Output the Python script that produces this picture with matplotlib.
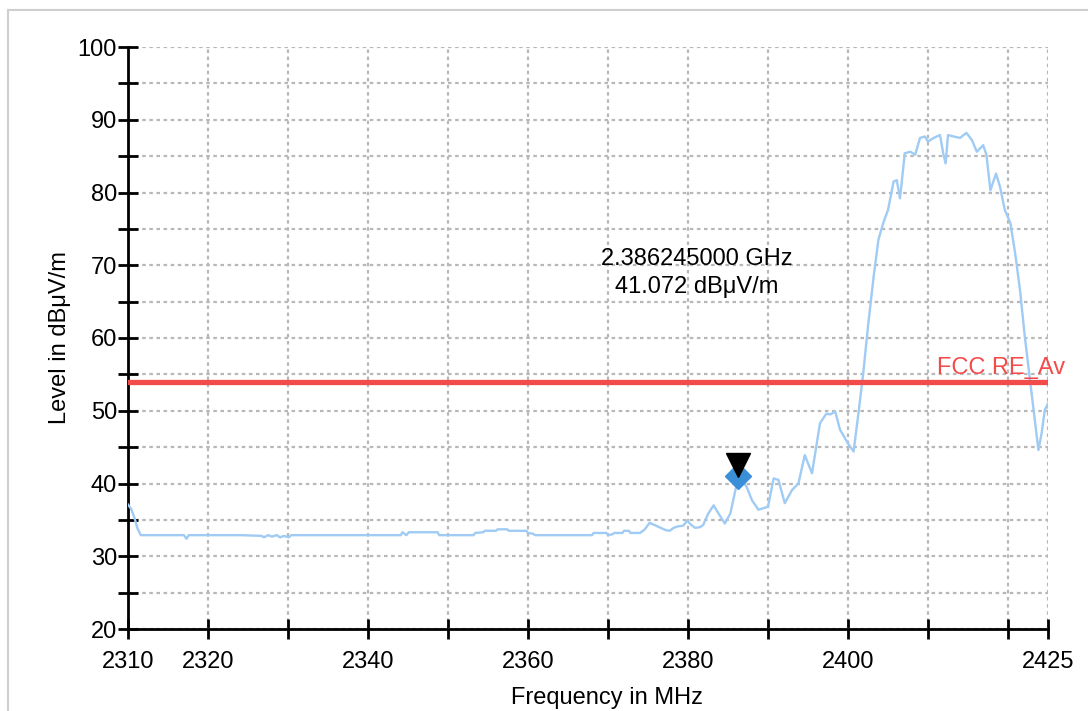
import matplotlib.pyplot as plt
from matplotlib.lines import Line2D
from matplotlib.transforms import ScaledTranslation

plt.rcParams['font.family'] = ['Liberation Sans', 'DejaVu Sans']

# trace (MHz, dBuV/m)
freq = [2310.0, 2310.4, 2310.8, 2311.2, 2311.6, 2312.5, 2315.0, 2317.0, 2317.3, 2317.6,
        2320.0, 2324.0, 2326.7, 2327.0, 2327.5, 2328.0, 2328.6, 2329.0, 2329.5, 2330.1,
        2330.4, 2335.0, 2340.0, 2344.1, 2344.3, 2344.8, 2345.1, 2348.7, 2348.9, 2353.2,
        2353.4, 2354.4, 2354.6, 2356.0, 2356.2, 2357.4, 2357.6, 2359.8, 2360.0, 2360.6,
        2360.9, 2368.0, 2368.2, 2369.8, 2370.0, 2370.5, 2370.8, 2371.8, 2372.0, 2372.6,
        2372.8, 2374.0, 2374.6, 2375.2, 2375.6, 2376.4, 2377.2, 2377.7, 2378.2, 2378.7,
        2379.4, 2379.9, 2380.4, 2380.9, 2381.5, 2381.9, 2382.5, 2383.2, 2383.8, 2384.6,
        2385.3, 2386.1, 2386.25, 2386.6, 2387.3, 2388.0, 2388.8, 2389.4, 2390.0, 2390.7,
        2391.3, 2392.1, 2393.0, 2393.8, 2394.6, 2395.5, 2396.5, 2397.3, 2397.8, 2398.4,
        2399.0, 2400.0, 2400.7, 2401.3, 2401.9, 2402.5, 2403.2, 2403.8, 2404.4, 2405.0,
        2405.7, 2406.1, 2406.5, 2407.1, 2407.8, 2408.4, 2409.0, 2409.6, 2410.0, 2410.7,
        2411.5, 2411.9, 2412.2, 2412.5, 2413.2, 2414.0, 2414.8, 2415.5, 2416.1, 2416.9,
        2417.3, 2417.8, 2418.5, 2419.0, 2419.6, 2420.3, 2420.9, 2421.5, 2422.1, 2422.8,
        2423.4, 2423.8, 2424.2, 2424.6, 2425.0]
level = [37.1, 36.5, 35.3, 33.8, 32.9, 32.9, 32.9, 32.9, 32.4, 32.9,
         32.9, 32.9, 32.8, 32.6, 32.9, 32.7, 32.9, 32.6, 32.8, 32.6,
         32.9, 32.9, 32.9, 32.9, 33.3, 32.9, 33.3, 33.3, 32.9, 32.9,
         33.2, 33.3, 33.5, 33.5, 33.7, 33.7, 33.5, 33.5, 33.2, 33.1,
         32.9, 32.9, 33.2, 33.2, 32.9, 33.0, 33.2, 33.2, 33.5, 33.5,
         33.2, 33.2, 33.7, 34.6, 34.4, 34.0, 33.6, 33.5, 33.9, 34.1,
         34.2, 34.9, 34.3, 33.9, 34.0, 34.3, 35.8, 37.0, 35.9, 34.5,
         35.9, 40.0, 41.07, 40.6, 39.6, 37.7, 36.4, 36.6, 36.8, 40.7,
         40.5, 37.3, 39.1, 40.0, 43.9, 41.4, 48.3, 49.6, 49.5, 49.9,
         47.4, 45.5, 44.4, 49.6, 55.1, 61.6, 68.4, 73.5, 75.8, 77.6,
         81.5, 81.7, 79.2, 85.4, 85.6, 85.2, 87.5, 87.7, 87.0, 87.5,
         87.9, 85.4, 84.0, 87.9, 87.7, 87.5, 88.2, 87.2, 85.6, 86.5,
         85.2, 80.3, 82.6, 80.8, 77.6, 75.8, 71.6, 66.6, 60.2, 53.8,
         48.3, 44.6, 46.9, 50.1, 51.0]

limit_level = 54.0
limit_name = 'FCC RE_Av'
marker_freq = 2386.245
marker_level = 41.072

x_ticks = list(range(2310, 2421, 10)) + [2425]
x_labels = ['2310', '2320', '', '2340', '', '2360', '', '2380', '', '2400', '', '', '2425']
y_ticks = list(range(20, 101, 5))
y_labels = [str(v) if v % 10 == 0 else '' for v in y_ticks]

fs = 17

fig = plt.figure(figsize=(10.88, 7.11), dpi=100)
ax = fig.add_axes([128 / 1088, 1 - 629 / 711, 920 / 1088, 582 / 711])

# outer panel border (only top/left visible in the screenshot)
fig.add_artist(Line2D([8 / 1088, 8 / 1088], [0, 1 - 10 / 711], transform=fig.transFigure,
                      color='#cfcfcf', lw=1.5))
fig.add_artist(Line2D([8 / 1088, 1], [1 - 10 / 711, 1 - 10 / 711], transform=fig.transFigure,
                      color='#cfcfcf', lw=1.5))

ax.plot(freq, level, color='#9fcbf4', lw=1.7, zorder=3)
ax.axhline(limit_level, color='#f24b4b', lw=3.8, zorder=4)
ax.text(2411.1, limit_level + 0.4, limit_name, color='#f24b4b', fontsize=fs,
        ha='left', va='bottom', clip_on=False, zorder=5)

# marker: diamond on the trace, black triangle just above it
ax.plot(marker_freq, marker_level, marker='D', ms=13, color='#3b8fd8', zorder=6)
up = ax.transData + ScaledTranslation(0, 11 / 100, fig.dpi_scale_trans)
ax.plot(marker_freq, marker_level, marker='v', ms=17, color='black', zorder=7, transform=up)
ax.text(2381.1, 70.9, '%.9f GHz' % (marker_freq / 1000), fontsize=fs, ha='center', va='center')
ax.text(2381.1, 67.0, '%.3f dBμV/m' % marker_level, fontsize=fs, ha='center', va='center')

ax.set_xlim(2310, 2425)
ax.set_ylim(20, 100)
ax.set_xticks(x_ticks)
ax.set_xticklabels(x_labels)
ax.set_yticks(y_ticks)
ax.set_yticklabels(y_labels)
ax.grid(True, color='#b8b8b8', lw=1.6, linestyle=(0, (1.6, 1.6)))
ax.set_axisbelow(True)

for s in ['top', 'right']:
    ax.spines[s].set_visible(False)
for s in ['left', 'bottom']:
    ax.spines[s].set_linewidth(2)
ax.tick_params(direction='inout', length=14, width=2, labelsize=fs)
ax.tick_params(axis='y', pad=1)
ax.tick_params(axis='x', pad=9)

ax.set_xlabel('Frequency in MHz', fontsize=fs, labelpad=10)
ax.xaxis.label.set_x(0.521)
ax.set_ylabel('Level in dBμV/m', fontsize=fs, labelpad=5)

fig.savefig('out.png', dpi=100)
